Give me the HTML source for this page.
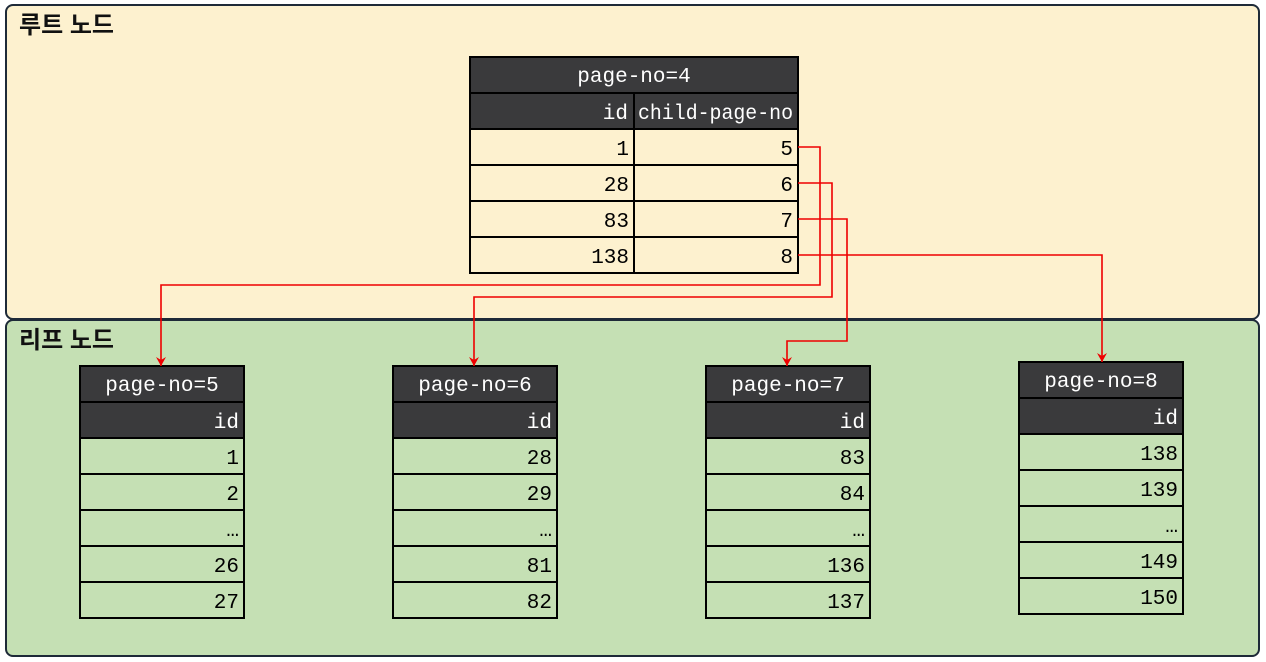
<!DOCTYPE html>
<html><head><meta charset="utf-8">
<style>
html,body{margin:0;padding:0;background:#fff;}
svg{display:block;}
text{font-family:"Liberation Mono","Noto Sans CJK KR",monospace;font-size:21px;}
.lbl{font-family:"Liberation Sans","Noto Sans CJK KR",sans-serif;font-weight:bold;font-size:24px;fill:#111;}
</style></head>
<body>
<svg id="dg" width="1266" height="662" viewBox="0 0 1266 662" xmlns="http://www.w3.org/2000/svg">
<defs><marker id="ah" markerWidth="10" markerHeight="10" refX="9" refY="5" orient="auto" markerUnits="userSpaceOnUse"><path d="M0,0 L9,5 L0,10 L3,5 Z" fill="#e00"/></marker></defs>
<rect x="6" y="5" width="1253" height="314" rx="7" fill="#fdf1cf" stroke="#1e2a38" stroke-width="2"/>
<rect x="6" y="320" width="1253" height="336" rx="7" fill="#c5e0b4" stroke="#1e2a38" stroke-width="2"/>
<text class="lbl" x="19" y="33">루트 노드</text>
<text class="lbl" x="19" y="348">리프 노드</text>
<g id="tables"></g>
<g id="arrows"></g>
</svg>
<script>
const rootIds = ["1","28","83","138"];
const rootChildren = ["5","6","7","8"];
const leafPages = ["5","6","7","8"];
const leafIds = [["1","2","…","26","27"],["28","29","…","81","82"],["83","84","…","136","137"],["138","139","…","149","150"]];
const leafX = [80,393,706,1019];
const leafY = [366,366,366,362];
const arrowBendX = [820,832,847,1102];
const arrowMidY = [285,297,341,null];

const NS="http://www.w3.org/2000/svg";
const tg=document.getElementById('tables'), ag=document.getElementById('arrows');
function mk(tag,attrs,parent){const e=document.createElementNS(NS,tag);for(const k in attrs)e.setAttribute(k,attrs[k]);parent.appendChild(e);return e;}
function txt(x,y,s,fill,anchor,parent){const t=mk('text',{x:x,y:y,fill:fill,'text-anchor':anchor},parent);t.textContent=s;return t;}
const RH=36, HDR="#3a3a3c";

const rx=470, ry=57, rw=328, split=634;
const rg=mk('g',{},tg);


mk('rect',{x:rx,y:ry,width:rw,height:RH*2,fill:HDR,stroke:'#000','stroke-width':2},rg);
mk('line',{x1:rx,y1:ry+RH,x2:rx+rw,y2:ry+RH,stroke:'#000','stroke-width':2},rg);
mk('line',{x1:split,y1:ry+RH,x2:split,y2:ry+RH*2,stroke:'#000','stroke-width':2},rg);
txt(rx+rw/2,ry+25,"page-no=4","#fff","middle",rg);
txt(split-6,ry+RH+26,"id","#fff","end",rg);
const ch=txt(638,ry+RH+26,"child-page-no","#fff","start",rg);
ch.setAttribute('textLength','155');
ch.setAttribute('lengthAdjust','spacingAndGlyphs');
rootIds.forEach((id,i)=>{
  const y=ry+RH*(2+i);
  const r=mk('g',{},rg);
  
  
  mk('rect',{x:rx,y:y,width:rw,height:RH,fill:'#fdf1cf',stroke:'#000','stroke-width':2},r);
  mk('line',{x1:split,y1:y,x2:split,y2:y+RH,stroke:'#000','stroke-width':2},r);
  txt(split-5,y+26,id,"#000","end",r);
  txt(rx+rw-5,y+26,rootChildren[i],"#000","end",r);
});

const lw=164;
leafPages.forEach((p,j)=>{
  const x=leafX[j], y=leafY[j];
  const g=mk('g',{},tg);
  
  
  mk('rect',{x:x,y:y,width:lw,height:RH*2,fill:HDR,stroke:'#000','stroke-width':2},g);
  mk('line',{x1:x,y1:y+RH,x2:x+lw,y2:y+RH,stroke:'#000','stroke-width':2},g);
  txt(x+lw/2,y+25,"page-no="+p,"#fff","middle",g);
  txt(x+lw-5,y+RH+26,"id","#fff","end",g);
  leafIds[j].forEach((v,i)=>{
    const yy=y+RH*(2+i);
    mk('rect',{x:x,y:yy,width:lw,height:RH,fill:'#c5e0b4',stroke:'#000','stroke-width':2},g);
    txt(x+lw-5,yy+26,v,"#000","end",g);
  });
});

rootChildren.forEach((c,i)=>{
  const sy=ry+RH*(2+i)+RH/2, sx=rx+rw, bx=arrowBendX[i];
  const tx=leafX[i]+lw/2-(i==3?0:1), ty=leafY[i];
  let d;
  if(arrowMidY[i]==null) d=`M${sx},${sy} H${bx} V${ty}`;
  else d=`M${sx},${sy} H${bx} V${arrowMidY[i]} H${tx} V${ty}`;
  const p=mk('path',{d:d,fill:'none',stroke:'#e00','stroke-width':1.6,'marker-end':'url(#ah)'},ag);
  
  
});
</script>
</body></html>
